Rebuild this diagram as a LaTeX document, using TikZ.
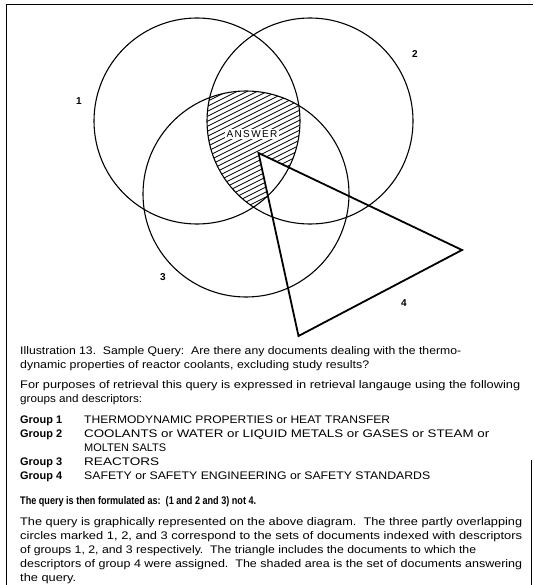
\documentclass[tikz,border=0pt]{standalone}
\usepackage{graphicx}
\usepackage{fontspec}
\setmainfont{Liberation Sans}
\newfontfamily\capfont{Liberation Sans}
\newfontfamily\ansfont[LetterSpace=14]{Liberation Sans}
\newsavebox\fitbox
\newcommand\fitline[2]{%
  \sbox\fitbox{#2}%
  \pgfmathsetmacro\fitsx{#1/\the\wd\fitbox}%
  \scalebox{\fitsx}[1]{\usebox\fitbox}}
\begin{document}
\begin{tikzpicture}[x=1pt,y=-1pt,
  circ/.style={line width=1.1pt},
  tri/.style={line width=1.8pt,line join=miter},
  hatch/.style={line width=0.8pt},
  frame/.style={line width=1pt},
  setlabel/.style={font=\bfseries\fontsize{10}{12}\selectfont,inner sep=0pt},
  txt/.style={anchor=base west,inner sep=0pt,font=\capfont\fontsize{11}{13}\selectfont},
  txtb/.style={txt,font=\capfont\bfseries\fontsize{11}{13}\selectfont}]
\useasboundingbox (0,0) rectangle (533,585);
% frame
\draw[frame] (6,585) -- (6,5) -- (533,5);
\draw[frame] (531,460) -- (531,585);
% centres and triangle corners
\coordinate (c1) at (197,121);
\coordinate (c2) at (310,121);
\coordinate (c3) at (246,194);
\coordinate (ta) at (258.5,153);
\coordinate (tb) at (462,250);
\coordinate (tc) at (298.5,336);
% hatched answer area
\begin{scope}[even odd rule]
  \clip (0,0) rectangle (533,585) (ta) -- (tb) -- (tc) -- cycle;
  \clip (c1) circle[radius=103pt];
  \clip (c2) circle[radius=103pt];
  \clip (c3) circle[radius=103pt];
  \foreach \k in {0,...,62} \draw[hatch] (130,{20+5*\k}) -- ++(240,-120);
\end{scope}
% circles
\draw[circ] (c1) circle[radius=103pt];
\draw[circ] (c2) circle[radius=103pt];
\draw[circ] (c3) circle[radius=103pt];
% triangle
\draw[tri] (ta) -- (tb) -- (tc) -- cycle;
% labels
\node[fill=white,inner sep=1.5pt,font=\ansfont\fontsize{10}{12}\selectfont] (ans) at (252,134) {ANSWER};
\node[setlabel] (l1) at (79,101) {1};
\node[setlabel] (l2) at (415,54) {2};
\node[setlabel] (l3) at (163,277) {3};
\node[setlabel] (l4) at (404,303) {4};
% caption
\node[txt] (t0) at (20,354.5) {\fitline{441}{Illustration 13.\ \ Sample Query:\ \ Are there any documents dealing with the thermo-}};
\node[txt] (t1) at (20,368.5) {\fitline{349}{dynamic properties of reactor coolants, excluding study results?}};
\node[txt] (t2) at (20,388.5) {\fitline{500}{For purposes of retrieval this query is expressed in retrieval langauge using the following}};
\node[txt] (t3) at (20,402.5) {\fitline{122}{groups and descriptors:}};
\node[txtb] (g1) at (20,423.5) {\fitline{42}{Group 1}};
\node[txt] (d1) at (84,423.5) {\fitline{306}{THERMODYNAMIC PROPERTIES or HEAT TRANSFER}};
\node[txtb] (g2) at (20,437.5) {\fitline{42}{Group 2}};
\node[txt] (d2) at (84,437.5) {\fitline{405}{COOLANTS or WATER or LIQUID METALS or GASES or STEAM or}};
\node[txt] (d2b) at (84,451.5) {\fitline{82}{MOLTEN SALTS}};
\node[txtb] (g3) at (20,465.5) {\fitline{42}{Group 3}};
\node[txt] (d3) at (84,465.5) {\fitline{75}{REACTORS}};
\node[txtb] (g4) at (20,479.5) {\fitline{42}{Group 4}};
\node[txt] (d4) at (84,479.5) {\fitline{346}{SAFETY or SAFETY ENGINEERING or SAFETY STANDARDS}};
\node[txtb] (t9) at (20,504.5) {\fitline{236}{The query is then formulated as:\ \ (1 and 2 and 3) not 4.}};
\node[txt] (t10) at (20,525.5) {\fitline{502}{The query is graphically represented on the above diagram.\ \ The three partly overlapping}};
\node[txt] (t11) at (20,539.5) {\fitline{502}{circles marked 1, 2, and 3 correspond to the sets of documents indexed with descriptors}};
\node[txt] (t12) at (20,553.5) {\fitline{456}{of groups 1, 2, and 3 respectively.\ \ The triangle includes the documents to which the}};
\node[txt] (t13) at (20,567.5) {\fitline{502}{descriptors of group 4 were assigned.\ \ The shaded area is the set of documents answering}};
\node[txt] (t14) at (20,581.5) {\fitline{56}{the query.}};
\end{tikzpicture}
\end{document}
